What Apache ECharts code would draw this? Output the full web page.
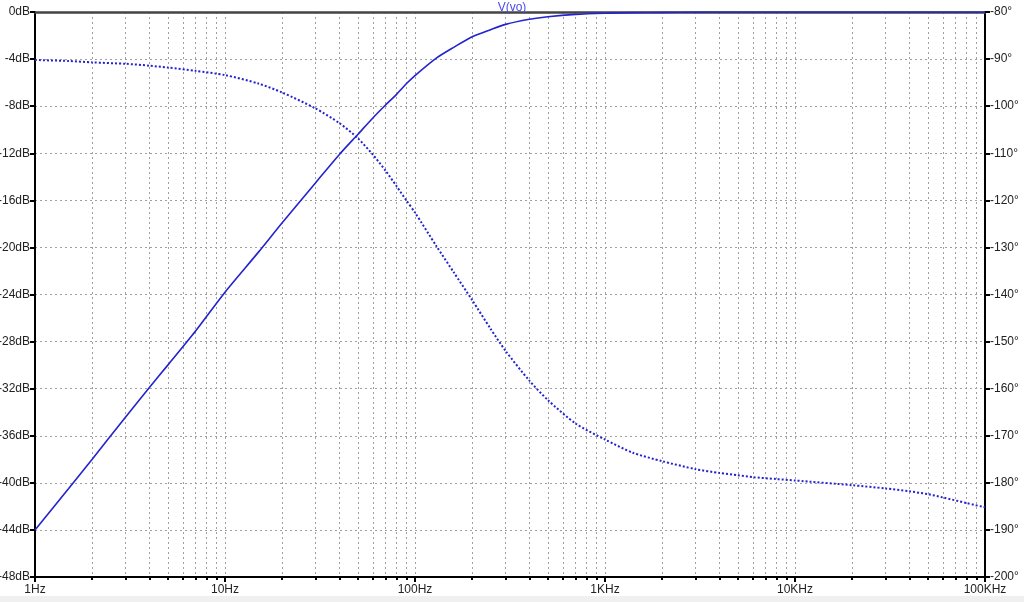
<!DOCTYPE html>
<html>
<head>
<meta charset="utf-8">
<script src="https://cdn.jsdelivr.net/npm/echarts@6/dist/echarts.min.js"></script>
<style>
html,body{margin:0;padding:0;}
body{width:1024px;height:602px;background:linear-gradient(#ffffff 596px,#f0f0f0 596px);overflow:hidden;}
#c{width:1024px;height:602px;}
</style>
</head>
<body>
<div id="c"></div>
<script>
// Frequencies (Hz)
var freqs = [1, 1.5, 2, 3, 4, 5, 7, 10, 15, 20, 30, 40, 50, 60, 70, 80, 90, 100, 130, 160, 200, 250, 300, 400, 500, 700, 1000, 1400, 2000, 3000, 4000, 5000, 6000, 8000, 10000, 20000, 30000, 40000, 50000, 60000, 80000, 100000];
// Magnitude (dB), solid curve
var magnitudeDb = [-44.0, -40.5, -38.0, -34.4, -31.9, -30.0, -27.1, -23.8, -20.4, -17.9, -14.5, -12.1, -10.4, -9.0, -7.9, -7.0, -6.1, -5.4, -3.9, -3.0, -2.1, -1.5, -1.05, -0.62, -0.4, -0.2, -0.1, -0.05, -0.03, -0.01, 0, 0, 0, 0, 0, 0, 0, 0, 0, 0, 0, 0];
// Phase (degrees), dotted curve
var phaseDeg = [-90.2, -90.4, -90.7, -91.0, -91.4, -91.8, -92.5, -93.4, -95.2, -97.1, -100.5, -103.6, -106.8, -110.3, -113.7, -117.0, -120.0, -122.6, -129.8, -135.3, -141.2, -147.3, -152.0, -158.3, -162.4, -167.4, -170.8, -173.6, -175.4, -177.1, -177.9, -178.4, -178.8, -179.2, -179.5, -180.5, -181.2, -181.8, -182.4, -183.1, -184.3, -185.2];
// Axis tick labels
var xTickValues = [1, 10, 100, 1000, 10000, 100000];
var xTickLabels = ['1Hz', '10Hz', '100Hz', '1KHz', '10KHz', '100KHz'];
var xMinorValues = [];
[1, 10, 100, 1000, 10000].forEach(function (d) {
  [2, 3, 4, 5, 6, 7, 8, 9].forEach(function (m) { xMinorValues.push(d * m); });
});
var seriesName = 'V(vo)';

var FONT = 'Liberation Sans';
var BLUE = '#2323cf';
var gridDash = { color: '#a0a0a0', width: 1, type: [2, 3] };

var chart = echarts.init(document.getElementById('c'), null, { renderer: 'canvas' });
chart.setOption({
  backgroundColor: 'transparent',
  animation: false,
  title: {
    text: seriesName, left: 'center', top: -3,
    textStyle: { color: '#4a4af0', fontFamily: FONT, fontSize: 12, fontWeight: 'normal' }
  },
  grid: { left: 35, right: 39, top: 12, bottom: 25, containLabel: false, outerBoundsMode: 'none' },
  xAxis: [
    {
      type: 'log', logBase: 10, min: 1, max: 100000, interval: 1, position: 'bottom',
      axisLine: { show: true, onZero: false, lineStyle: { color: '#000', width: 2 } },
      axisTick: { show: true, length: 5, inside: false, lineStyle: { color: '#000', width: 2 } },
      axisLabel: {
        show: true, margin: 7, color: '#222', fontFamily: FONT, fontSize: 12,
        formatter: function (v) {
          var i = xTickValues.indexOf(Math.round(v));
          return i >= 0 ? xTickLabels[i] : '';
        },
        showMinLabel: true, showMaxLabel: true
      },
      splitLine: { show: true, lineStyle: gridDash }
    },
    {
      type: 'log', logBase: 10, min: 1, max: 100000, position: 'bottom', gridIndex: 0,
      axisLine: { show: false, onZero: false },
      axisTick: { show: true, length: 3, inside: false, customValues: xMinorValues, lineStyle: { color: '#000', width: 2 } },
      axisLabel: { show: false, customValues: xMinorValues },
      splitLine: { show: true, lineStyle: gridDash }
    },
    {
      type: 'log', logBase: 10, min: 1, max: 100000, position: 'top', gridIndex: 0,
      axisLine: { show: true, onZero: false, lineStyle: { color: '#444', width: 2.5 } },
      axisTick: { show: false }, axisLabel: { show: false }, splitLine: { show: false }
    }
  ],
  yAxis: [
    {
      type: 'value', min: -48, max: 0, interval: 4, position: 'left',
      axisLine: { show: true, onZero: false, lineStyle: { color: '#000', width: 2 } },
      axisTick: { show: true, length: 5, lineStyle: { color: '#000', width: 2 } },
      axisLabel: { color: '#222', fontFamily: FONT, fontSize: 12, margin: 5, formatter: '{value}dB' },
      splitLine: { show: true, lineStyle: gridDash }
    },
    {
      type: 'value', min: -200, max: -80, interval: 10, position: 'right',
      axisLine: { show: true, onZero: false, lineStyle: { color: '#000', width: 2 } },
      axisTick: { show: true, length: 5, lineStyle: { color: '#000', width: 2 } },
      axisLabel: { color: '#222', fontFamily: FONT, fontSize: 12, margin: 5, formatter: '{value}°' },
      splitLine: { show: false }
    }
  ],
  series: [
    {
      name: seriesName, type: 'line', xAxisIndex: 0, yAxisIndex: 0,
      data: freqs.map(function (f, i) { return [f, magnitudeDb[i]]; }),
      showSymbol: false, smooth: 0.25, clip: true,
      lineStyle: { color: BLUE, width: 1.6 }
    },
    {
      name: seriesName + ' phase', type: 'line', xAxisIndex: 0, yAxisIndex: 1,
      data: freqs.map(function (f, i) { return [f, phaseDeg[i]]; }),
      showSymbol: false, smooth: 0.25, clip: true,
      lineStyle: { color: BLUE, width: 2, type: 'dotted' }
    }
  ]
});
</script>
</body>
</html>
